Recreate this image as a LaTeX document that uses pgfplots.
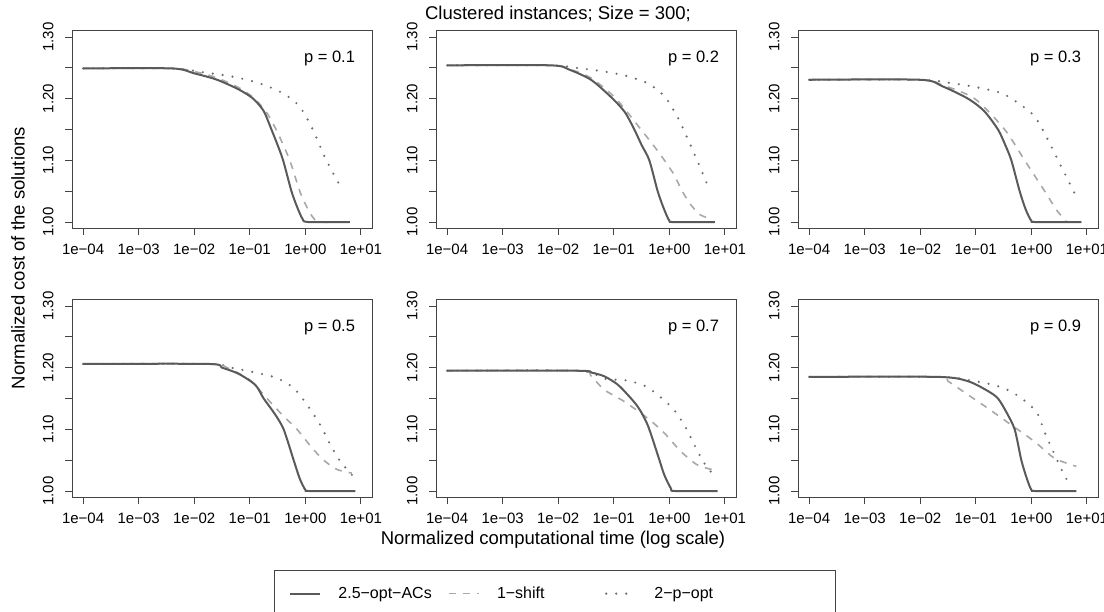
\documentclass[border=0pt]{standalone}
\usepackage{fontspec}
\setmainfont{Liberation Sans}
\usepackage{pgfplots}
\pgfplotsset{compat=1.18}

\definecolor{solidc}{HTML}{5A5A5A}
\definecolor{dashc}{HTML}{A8A8A8}
\definecolor{dotc}{HTML}{6E6E6E}
\definecolor{framec}{HTML}{444444}

\pgfplotsset{
  panel/.style={
    scale only axis, width=300pt, height=198pt,
    anchor=south west,
    xmin=-4.2, xmax=1.2, ymin=0.9903, ymax=1.3113,
    xtick={-4,-3,-2,-1,0,1},
    xticklabels={1e−04,1e−03,1e−02,1e−01,1e+00,1e+01},
    ytick={1,1.05,1.1,1.15,1.2,1.25,1.3},
    yticklabels={1.00,,1.10,,1.20,,1.30},
    tick pos=left, tick align=outside,
    major tick length=7pt,
    axis line style={framec, line width=0.9pt},
    every tick/.style={framec, line width=0.9pt},
    tick label style={font=\fontsize{15}{15}\selectfont},
    xticklabel shift=5pt,
    yticklabel shift=8pt,
    yticklabel style={rotate=90, anchor=south},
    legend image code/.code={\draw[##1] (0pt,0pt) -- (30pt,0pt);},
  },
  s1/.style={solidc, line width=2pt, smooth, tension=0.45},
  s2/.style={dashc, line width=1.6pt, dash pattern=on 7pt off 7pt, smooth, tension=0.45},
  s3/.style={dotc, line width=2.4pt, line cap=round, dash pattern=on 0pt off 10pt, smooth, tension=0.45},
}
\newcommand{\plab}[1]{\node[anchor=east, font=\fontsize{16.5}{16.5}\selectfont] at (rel axis cs:0.955,0.855) {#1};}

\begin{document}
\begin{tikzpicture}
\useasboundingbox (0,0) rectangle (1104pt,611pt);

% p = 0.1
\begin{axis}[panel, at={(72pt,383pt)}]
\addplot[s3] coordinates {(-4,1.249) (-2.4,1.249) (-1.9,1.2436) (-1.3,1.2355) (-0.82,1.2247) (-0.4,1.2086) (-0.1,1.187) (0.14,1.149) (0.32,1.111) (0.5,1.079) (0.65,1.055)};
\addplot[s2] coordinates {(-4,1.249) (-2.4,1.249) (-2.0,1.244) (-1.6,1.234) (-1.2,1.218) (-0.94,1.202) (-0.7,1.178) (-0.5,1.145) (-0.28,1.100) (-0.1,1.050) (0.05,1.020) (0.15,1.006) (0.25,1.000) (0.7,1.000)};
\addplot[s1] coordinates {(-4,1.249) (-2.4,1.249) (-2.0,1.241) (-1.6,1.231) (-1.2,1.215) (-0.94,1.200) (-0.75,1.180) (-0.61,1.150) (-0.5,1.125) (-0.40,1.100) (-0.25,1.050) (-0.15,1.025) (-0.05,1.005) (0.05,1.000) (0.8,1.000)};
\plab{p = 0.1}
\end{axis}

% p = 0.2
\begin{axis}[panel, at={(436pt,383pt)}]
\addplot[s3] coordinates {(-4,1.254) (-2.14,1.254) (-1.65,1.2496) (-1.17,1.244) (-0.78,1.237) (-0.39,1.225) (-0.08,1.203) (0.16,1.168) (0.34,1.133) (0.55,1.0895) (0.70,1.057)};
\addplot[s2] coordinates {(-4,1.254) (-2.14,1.254) (-1.8,1.248) (-1.4,1.233) (-0.96,1.200) (-0.51,1.150) (-0.2,1.114) (0.07,1.079) (0.22,1.052) (0.37,1.030) (0.55,1.012) (0.76,1.005)};
\addplot[s1] coordinates {(-4,1.254) (-2.14,1.254) (-1.8,1.247) (-1.4,1.230) (-1.02,1.200) (-0.8,1.178) (-0.63,1.150) (-0.5,1.125) (-0.36,1.100) (-0.21,1.050) (-0.1,1.022) (0.0,1.002) (0.08,1.000) (0.82,1.000)};
\plab{p = 0.2}
\end{axis}

% p = 0.3
\begin{axis}[panel, at={(798pt,383pt)}]
\addplot[s3] coordinates {(-4,1.2306) (-2.0,1.2306) (-1.5,1.226) (-1.02,1.219) (-0.54,1.209) (-0.24,1.193) (0.06,1.171) (0.30,1.133) (0.51,1.095) (0.66,1.068) (0.81,1.041)};
\addplot[s2] coordinates {(-4,1.2306) (-2.0,1.2306) (-1.6,1.222) (-1.02,1.200) (-0.48,1.150) (-0.12,1.100) (0.24,1.050) (0.45,1.020) (0.6,1.004) (0.65,1.000) (0.9,1.000)};
\addplot[s1] coordinates {(-4,1.2306) (-2.0,1.2306) (-1.6,1.220) (-1.14,1.200) (-0.85,1.180) (-0.60,1.150) (-0.47,1.125) (-0.36,1.100) (-0.21,1.050) (-0.1,1.020) (0.0,1.002) (0.08,1.000) (0.9,1.000)};
\plab{p = 0.3}
\end{axis}

% p = 0.5
\begin{axis}[panel, at={(72pt,114pt)}]
\addplot[s3] coordinates {(-4,1.206) (-1.74,1.206) (-1.29,1.199) (-0.87,1.1915) (-0.51,1.183) (-0.21,1.167) (0.03,1.140) (0.27,1.107) (0.45,1.075) (0.63,1.048) (0.84,1.026)};
\addplot[s2] coordinates {(-4,1.206) (-1.74,1.206) (-1.41,1.200) (-1.0,1.180) (-0.69,1.150) (-0.4,1.122) (-0.15,1.100) (0.12,1.070) (0.33,1.050) (0.57,1.035) (0.84,1.029)};
\addplot[s1] coordinates {(-4,1.206) (-1.74,1.206) (-1.5,1.200) (-1.2,1.190) (-0.9,1.172) (-0.75,1.150) (-0.55,1.125) (-0.39,1.100) (-0.21,1.050) (-0.1,1.020) (0.0,1.002) (0.08,1.000) (0.9,1.000)};
\plab{p = 0.5}
\end{axis}

% p = 0.7
\begin{axis}[panel, at={(436pt,114pt)},
  legend columns=3,
  legend style={at={(axis description cs:-0.540,-0.367)}, anchor=north west,
    draw=framec, line width=0.8pt, inner xsep=15pt, inner ysep=17pt,
    nodes={inner sep=0pt, text depth=0.15em}, cells={anchor=west},
    font=\fontsize{16}{16}\selectfont,
    /tikz/every odd column/.append style={column sep=17pt},
    /tikz/every even column/.append style={column sep=10pt}}]
\addplot[s3, forget plot] coordinates {(-4,1.195) (-1.65,1.195) (-1.17,1.182) (-0.75,1.179) (-0.39,1.168) (0.03,1.137) (0.27,1.107) (0.45,1.075) (0.63,1.045) (0.84,1.021)};
\addplot[s2, forget plot] coordinates {(-4,1.195) (-1.65,1.195) (-1.4,1.185) (-1.17,1.164) (-0.81,1.145) (-0.39,1.118) (-0.09,1.094) (0.21,1.064) (0.51,1.042) (0.81,1.034)};
\addplot[s1] coordinates {(-4,1.195) (-1.65,1.195) (-1.4,1.192) (-1.17,1.186) (-0.95,1.174) (-0.81,1.162) (-0.57,1.137) (-0.39,1.107) (-0.21,1.059) (-0.09,1.026) (0.03,1.004) (0.1,1.000) (0.87,1.000)};
\addlegendentry{\makebox[100pt][l]{2.5−opt−ACs}}
\addlegendimage{s2}
\addlegendentry{\makebox[98pt][l]{1−shift}}
\addlegendimage{s3}
\addlegendentry{\makebox[166pt][l]{2−p−opt}}
\plab{p = 0.7}
\end{axis}

% p = 0.9
\begin{axis}[panel, at={(798pt,114pt)}]
\addplot[s3] coordinates {(-4,1.185) (-1.68,1.185) (-1.14,1.180) (-0.66,1.1715) (-0.36,1.161) (-0.06,1.142) (0.12,1.124) (0.24,1.095) (0.42,1.059) (0.57,1.030) (0.66,1.015)};
\addplot[s2] coordinates {(-4,1.185) (-1.68,1.185) (-1.5,1.178) (-1.14,1.156) (-0.78,1.134) (-0.36,1.107) (0.06,1.080) (0.42,1.053) (0.81,1.040)};
\addplot[s1] coordinates {(-4,1.185) (-1.68,1.185) (-1.14,1.178) (-0.78,1.162) (-0.60,1.150) (-0.45,1.128) (-0.30,1.100) (-0.18,1.050) (-0.08,1.020) (0.0,1.002) (0.08,1.000) (0.81,1.000)};
\plab{p = 0.9}
\end{axis}

\node[font=\fontsize{18.5}{18.5}\selectfont] at (558pt,597pt) {Clustered instances; Size = 300;};
\node[font=\fontsize{18.5}{18.5}\selectfont] at (553pt,71pt) {Normalized computational time (log scale)};
\node[rotate=90, font=\fontsize{18.5}{18.5}\selectfont] at (18pt,353pt) {Normalized cost of the solutions};
\end{tikzpicture}
\end{document}
